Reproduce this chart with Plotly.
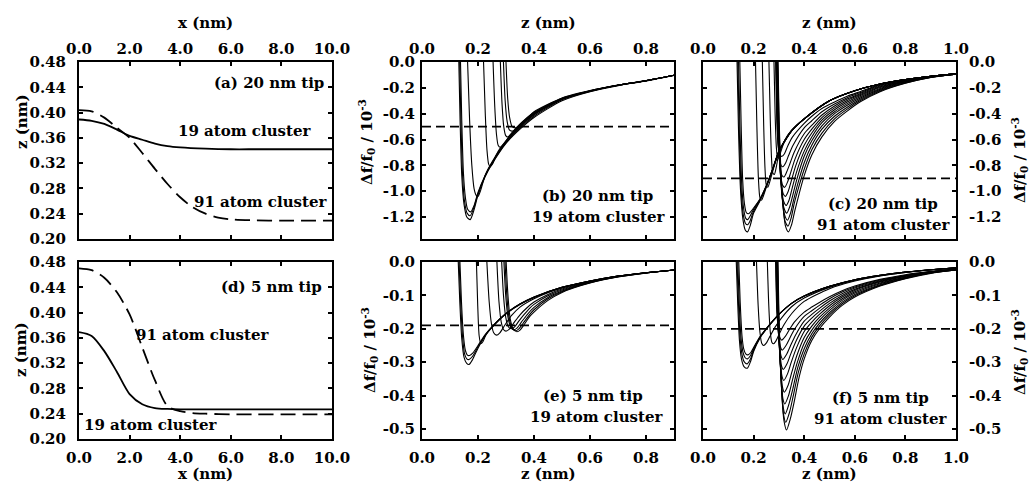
import plotly.graph_objects as go

SERIF = "DejaVu Serif"
W, H = 1029, 484

# ---------------- (a) 20 nm tip: equilibrium height z(x) ----------------
A19_X = [0, 0.5, 1, 1.5, 2, 2.5, 3, 3.5, 4, 5, 6, 7, 8, 9, 10]
A19_Z = [0.389, 0.387, 0.382, 0.373, 0.363, 0.357, 0.351, 0.347, 0.345, 0.343, 0.342, 0.342, 0.342, 0.342, 0.342]
A91_X = [0, 0.5, 1, 1.5, 2, 2.5, 3, 3.5, 4, 4.5, 5, 5.5, 6, 7, 8, 9, 10]
A91_Z = [0.404, 0.402, 0.392, 0.376, 0.360, 0.336, 0.311, 0.287, 0.266, 0.250, 0.240, 0.234, 0.231, 0.2295, 0.229, 0.229, 0.229]

# ---------------- (d) 5 nm tip ----------------
D19_X = [0, 0.5, 1, 1.5, 2, 2.5, 3, 3.5, 4, 5, 6, 7, 8, 9, 10]
D19_Z = [0.369, 0.363, 0.339, 0.306, 0.271, 0.255, 0.249, 0.2475, 0.247, 0.247, 0.247, 0.247, 0.247, 0.247, 0.247]
D91_X = [0, 0.5, 1, 1.5, 2, 2.5, 3, 3.5, 4, 4.5, 5, 6, 7, 8, 9, 10]
D91_Z = [0.470, 0.467, 0.455, 0.432, 0.397, 0.345, 0.293, 0.252, 0.244, 0.241, 0.240, 0.239, 0.239, 0.239, 0.239, 0.239]

# ---------------- (b) 20 nm tip, 19 atom cluster: df/f0 (1e-3) vs z ----------------
B_Z = [
    [0.131, 0.136, 0.142, 0.150, 0.160, 0.172, 0.185, 0.200, 0.225, 0.250, 0.300, 0.350, 0.400, 0.500, 0.600, 0.700, 0.800, 0.900],
    [0.134, 0.139, 0.145, 0.152, 0.161, 0.172, 0.185, 0.200, 0.225, 0.250, 0.300, 0.350, 0.400, 0.500, 0.600, 0.700, 0.800, 0.900],
    [0.137, 0.142, 0.148, 0.155, 0.163, 0.174, 0.186, 0.200, 0.225, 0.250, 0.300, 0.350, 0.400, 0.500, 0.600, 0.700, 0.800, 0.900],
    [0.162, 0.170, 0.178, 0.186, 0.193, 0.200, 0.210, 0.225, 0.250, 0.300, 0.350, 0.400, 0.500, 0.600, 0.700, 0.800, 0.900],
    [0.219, 0.226, 0.232, 0.238, 0.244, 0.252, 0.265, 0.280, 0.300, 0.350, 0.400, 0.500, 0.600, 0.700, 0.800, 0.900],
    [0.253, 0.260, 0.266, 0.272, 0.279, 0.288, 0.300, 0.320, 0.350, 0.400, 0.500, 0.600, 0.700, 0.800, 0.900],
    [0.279, 0.286, 0.292, 0.299, 0.306, 0.315, 0.330, 0.350, 0.400, 0.500, 0.600, 0.700, 0.800, 0.900],
    [0.290, 0.297, 0.304, 0.312, 0.321, 0.330, 0.345, 0.370, 0.400, 0.500, 0.600, 0.700, 0.800, 0.900],
    [0.299, 0.306, 0.313, 0.322, 0.333, 0.343, 0.360, 0.380, 0.400, 0.500, 0.600, 0.700, 0.800, 0.900],
]
B_DF = [
    [0.05, -0.45, -0.88, -1.10, -1.20, -1.22, -1.15, -1.03, -0.89, -0.79, -0.63, -0.52, -0.43, -0.30, -0.23, -0.183, -0.147, -0.104],
    [0.05, -0.45, -0.88, -1.08, -1.17, -1.19, -1.13, -1.02, -0.885, -0.785, -0.625, -0.51, -0.42, -0.293, -0.228, -0.181, -0.146, -0.103],
    [0.05, -0.45, -0.86, -1.05, -1.14, -1.16, -1.11, -1.01, -0.88, -0.78, -0.62, -0.50, -0.41, -0.288, -0.226, -0.18, -0.145, -0.103],
    [0.05, -0.45, -0.80, -0.98, -1.03, -1.04, -0.99, -0.88, -0.775, -0.615, -0.50, -0.405, -0.287, -0.225, -0.18, -0.145, -0.103],
    [0.05, -0.40, -0.68, -0.79, -0.81, -0.79, -0.72, -0.665, -0.61, -0.495, -0.40, -0.285, -0.225, -0.18, -0.145, -0.103],
    [0.05, -0.35, -0.56, -0.645, -0.66, -0.645, -0.61, -0.55, -0.49, -0.40, -0.285, -0.225, -0.18, -0.145, -0.103],
    [0.05, -0.33, -0.50, -0.57, -0.58, -0.565, -0.53, -0.485, -0.395, -0.283, -0.224, -0.18, -0.145, -0.103],
    [0.05, -0.30, -0.46, -0.525, -0.535, -0.525, -0.49, -0.44, -0.39, -0.28, -0.222, -0.179, -0.145, -0.103],
    [0.05, -0.28, -0.43, -0.50, -0.51, -0.50, -0.465, -0.425, -0.385, -0.278, -0.221, -0.178, -0.144, -0.103],
]

# ---------------- (c) 20 nm tip, 91 atom cluster ----------------
C_Z = [
    [0.134, 0.140, 0.148, 0.158, 0.167, 0.176, 0.186, 0.200, 0.225, 0.250, 0.275, 0.300, 0.350, 0.400, 0.500, 0.600, 0.700, 0.800, 0.900, 1.000],
    [0.137, 0.143, 0.150, 0.159, 0.168, 0.176, 0.186, 0.200, 0.225, 0.250, 0.275, 0.300, 0.350, 0.400, 0.500, 0.600, 0.700, 0.800, 0.900, 1.000],
    [0.140, 0.146, 0.153, 0.161, 0.169, 0.177, 0.187, 0.200, 0.225, 0.250, 0.275, 0.300, 0.350, 0.400, 0.500, 0.600, 0.700, 0.800, 0.900, 1.000],
    [0.145, 0.151, 0.157, 0.164, 0.171, 0.179, 0.188, 0.200, 0.225, 0.250, 0.275, 0.300, 0.350, 0.400, 0.500, 0.600, 0.700, 0.800, 0.900, 1.000],
    [0.207, 0.213, 0.219, 0.225, 0.231, 0.240, 0.250, 0.275, 0.300, 0.350, 0.400, 0.500, 0.600, 0.700, 0.800, 0.900, 1.000],
    [0.234, 0.240, 0.245, 0.250, 0.256, 0.265, 0.275, 0.300, 0.350, 0.400, 0.500, 0.600, 0.700, 0.800, 0.900, 1.000],
    [0.260, 0.266, 0.271, 0.276, 0.282, 0.290, 0.300, 0.325, 0.350, 0.400, 0.500, 0.600, 0.700, 0.800, 0.900, 1.000],
    [0.280, 0.285, 0.290, 0.294, 0.298, 0.310, 0.325, 0.350, 0.400, 0.500, 0.600, 0.700, 0.800, 0.900, 1.000],
    [0.287, 0.292, 0.297, 0.302, 0.307, 0.312, 0.322, 0.335, 0.352, 0.400, 0.430, 0.470, 0.520, 0.570, 0.620, 0.700, 0.800, 0.900, 1.000],
    [0.288, 0.293, 0.298, 0.304, 0.310, 0.316, 0.327, 0.339, 0.356, 0.400, 0.430, 0.470, 0.520, 0.570, 0.620, 0.700, 0.800, 0.900, 1.000],
    [0.289, 0.294, 0.300, 0.306, 0.313, 0.320, 0.331, 0.343, 0.360, 0.400, 0.430, 0.470, 0.520, 0.570, 0.620, 0.700, 0.800, 0.900, 1.000],
    [0.290, 0.295, 0.301, 0.308, 0.315, 0.323, 0.334, 0.346, 0.364, 0.400, 0.430, 0.470, 0.520, 0.570, 0.620, 0.700, 0.800, 0.900, 1.000],
    [0.291, 0.296, 0.302, 0.309, 0.317, 0.326, 0.337, 0.349, 0.367, 0.400, 0.430, 0.470, 0.520, 0.570, 0.620, 0.700, 0.800, 0.900, 1.000],
    [0.292, 0.297, 0.303, 0.310, 0.319, 0.329, 0.340, 0.352, 0.370, 0.400, 0.430, 0.470, 0.520, 0.570, 0.620, 0.700, 0.800, 0.900, 1.000],
    [0.293, 0.298, 0.304, 0.311, 0.320, 0.331, 0.343, 0.355, 0.372, 0.400, 0.430, 0.470, 0.520, 0.570, 0.620, 0.700, 0.800, 0.900, 1.000],
    [0.294, 0.299, 0.305, 0.313, 0.322, 0.334, 0.346, 0.358, 0.375, 0.400, 0.430, 0.470, 0.520, 0.570, 0.620, 0.700, 0.800, 0.900, 1.000],
    [0.295, 0.300, 0.306, 0.314, 0.324, 0.336, 0.348, 0.360, 0.378, 0.400, 0.430, 0.470, 0.520, 0.570, 0.620, 0.700, 0.800, 0.900, 1.000],
    [0.296, 0.301, 0.307, 0.316, 0.326, 0.338, 0.350, 0.363, 0.380, 0.400, 0.430, 0.470, 0.520, 0.570, 0.620, 0.700, 0.800, 0.900, 1.000],
]
C_DF = [
    [0.05, -0.50, -0.98, -1.22, -1.30, -1.315, -1.27, -1.17, -1.075, -0.965, -0.835, -0.695, -0.535, -0.44, -0.30, -0.222, -0.17, -0.136, -0.11, -0.092],
    [0.05, -0.50, -0.96, -1.18, -1.25, -1.26, -1.23, -1.155, -1.07, -0.963, -0.834, -0.694, -0.534, -0.44, -0.30, -0.222, -0.17, -0.136, -0.11, -0.092],
    [0.05, -0.50, -0.94, -1.14, -1.21, -1.22, -1.19, -1.14, -1.065, -0.96, -0.832, -0.692, -0.533, -0.44, -0.30, -0.222, -0.17, -0.136, -0.11, -0.092],
    [0.05, -0.50, -0.92, -1.10, -1.165, -1.175, -1.16, -1.13, -1.06, -0.958, -0.83, -0.69, -0.532, -0.44, -0.30, -0.222, -0.17, -0.136, -0.11, -0.092],
    [0.05, -0.50, -0.90, -1.05, -1.07, -1.03, -0.97, -0.83, -0.69, -0.532, -0.44, -0.30, -0.222, -0.17, -0.136, -0.11, -0.092],
    [0.05, -0.50, -0.82, -0.95, -0.97, -0.92, -0.85, -0.695, -0.532, -0.44, -0.30, -0.222, -0.17, -0.136, -0.11, -0.092],
    [0.05, -0.45, -0.75, -0.86, -0.87, -0.81, -0.71, -0.60, -0.53, -0.44, -0.30, -0.222, -0.17, -0.136, -0.11, -0.092],
    [0.05, -0.40, -0.66, -0.735, -0.745, -0.68, -0.60, -0.53, -0.44, -0.30, -0.222, -0.17, -0.136, -0.11, -0.092],
    [0.05, -0.45, -0.64, -0.71, -0.728, -0.73, -0.71, -0.65, -0.585, -0.475, -0.42, -0.36, -0.31, -0.265, -0.23, -0.175, -0.138, -0.111, -0.092],
    [0.05, -0.45, -0.67, -0.77, -0.805, -0.81, -0.78, -0.72, -0.645, -0.51, -0.455, -0.385, -0.325, -0.276, -0.238, -0.18, -0.14, -0.112, -0.092],
    [0.05, -0.45, -0.70, -0.83, -0.88, -0.89, -0.85, -0.79, -0.70, -0.555, -0.49, -0.41, -0.34, -0.287, -0.246, -0.186, -0.143, -0.113, -0.093],
    [0.05, -0.45, -0.72, -0.89, -0.955, -0.97, -0.93, -0.86, -0.75, -0.60, -0.52, -0.43, -0.355, -0.298, -0.254, -0.192, -0.146, -0.114, -0.093],
    [0.05, -0.45, -0.74, -0.93, -1.02, -1.04, -1.00, -0.92, -0.80, -0.645, -0.55, -0.45, -0.37, -0.31, -0.262, -0.198, -0.149, -0.115, -0.093],
    [0.05, -0.45, -0.76, -0.97, -1.08, -1.11, -1.07, -0.98, -0.85, -0.69, -0.58, -0.47, -0.385, -0.322, -0.27, -0.205, -0.152, -0.116, -0.094],
    [0.05, -0.45, -0.77, -1.01, -1.13, -1.17, -1.12, -1.03, -0.90, -0.73, -0.61, -0.495, -0.40, -0.335, -0.28, -0.212, -0.155, -0.117, -0.094],
    [0.05, -0.45, -0.78, -1.04, -1.18, -1.225, -1.17, -1.07, -0.94, -0.78, -0.645, -0.52, -0.42, -0.35, -0.29, -0.218, -0.158, -0.118, -0.094],
    [0.05, -0.45, -0.79, -1.07, -1.23, -1.27, -1.21, -1.10, -0.97, -0.83, -0.68, -0.55, -0.44, -0.365, -0.30, -0.224, -0.162, -0.119, -0.095],
    [0.05, -0.45, -0.80, -1.10, -1.27, -1.315, -1.26, -1.15, -1.02, -0.88, -0.72, -0.58, -0.46, -0.38, -0.31, -0.23, -0.165, -0.12, -0.095],
]

# ---------------- (e) 5 nm tip, 19 atom cluster ----------------
E_Z = [
    [0.129, 0.135, 0.142, 0.150, 0.159, 0.168, 0.180, 0.200, 0.225, 0.250, 0.300, 0.350, 0.400, 0.500, 0.600, 0.700, 0.800, 0.900],
    [0.132, 0.138, 0.145, 0.152, 0.160, 0.168, 0.180, 0.200, 0.225, 0.250, 0.300, 0.350, 0.400, 0.500, 0.600, 0.700, 0.800, 0.900],
    [0.135, 0.141, 0.148, 0.155, 0.162, 0.170, 0.181, 0.200, 0.225, 0.250, 0.300, 0.350, 0.400, 0.500, 0.600, 0.700, 0.800, 0.900],
    [0.194, 0.199, 0.204, 0.210, 0.218, 0.230, 0.250, 0.300, 0.350, 0.400, 0.500, 0.600, 0.700, 0.800, 0.900],
    [0.231, 0.240, 0.248, 0.256, 0.266, 0.278, 0.295, 0.320, 0.350, 0.400, 0.450, 0.500, 0.600, 0.700, 0.800, 0.900],
    [0.267, 0.275, 0.283, 0.291, 0.300, 0.312, 0.330, 0.350, 0.375, 0.400, 0.450, 0.500, 0.600, 0.700, 0.800, 0.900],
    [0.284, 0.291, 0.299, 0.308, 0.318, 0.330, 0.345, 0.365, 0.385, 0.400, 0.450, 0.500, 0.600, 0.700, 0.800, 0.900],
    [0.292, 0.299, 0.307, 0.317, 0.328, 0.340, 0.355, 0.375, 0.400, 0.450, 0.500, 0.600, 0.700, 0.800, 0.900],
    [0.296, 0.303, 0.311, 0.322, 0.334, 0.346, 0.360, 0.380, 0.400, 0.450, 0.500, 0.600, 0.700, 0.800, 0.900],
    [0.300, 0.307, 0.315, 0.326, 0.339, 0.351, 0.365, 0.385, 0.400, 0.450, 0.500, 0.600, 0.700, 0.800, 0.900],
]
E_DF = [
    [0.01, -0.12, -0.23, -0.285, -0.303, -0.307, -0.293, -0.258, -0.222, -0.196, -0.155, -0.127, -0.106, -0.076, -0.057, -0.042, -0.032, -0.024],
    [0.01, -0.12, -0.225, -0.275, -0.290, -0.292, -0.283, -0.254, -0.22, -0.195, -0.155, -0.126, -0.106, -0.076, -0.057, -0.042, -0.032, -0.024],
    [0.01, -0.12, -0.22, -0.265, -0.279, -0.280, -0.273, -0.25, -0.218, -0.194, -0.154, -0.126, -0.105, -0.076, -0.057, -0.042, -0.032, -0.024],
    [0.01, -0.13, -0.22, -0.245, -0.238, -0.215, -0.194, -0.154, -0.126, -0.105, -0.076, -0.057, -0.042, -0.032, -0.024],
    [0.01, -0.12, -0.185, -0.212, -0.219, -0.212, -0.19, -0.16, -0.135, -0.11, -0.092, -0.078, -0.058, -0.042, -0.032, -0.024],
    [0.01, -0.12, -0.18, -0.202, -0.207, -0.201, -0.18, -0.158, -0.137, -0.12, -0.097, -0.081, -0.059, -0.043, -0.032, -0.024],
    [0.01, -0.10, -0.165, -0.193, -0.20, -0.195, -0.178, -0.157, -0.138, -0.127, -0.101, -0.084, -0.06, -0.043, -0.033, -0.024],
    [0.01, -0.10, -0.165, -0.195, -0.203, -0.197, -0.18, -0.158, -0.136, -0.106, -0.087, -0.061, -0.044, -0.033, -0.024],
    [0.01, -0.10, -0.168, -0.198, -0.206, -0.20, -0.185, -0.162, -0.143, -0.11, -0.089, -0.062, -0.044, -0.033, -0.024],
    [0.01, -0.10, -0.17, -0.20, -0.209, -0.203, -0.187, -0.163, -0.15, -0.115, -0.091, -0.063, -0.045, -0.033, -0.024],
]

# ---------------- (f) 5 nm tip, 91 atom cluster ----------------
F_Z = [
    [0.131, 0.137, 0.144, 0.152, 0.162, 0.175, 0.188, 0.200, 0.225, 0.250, 0.275, 0.300, 0.350, 0.400, 0.500, 0.600, 0.700, 0.800, 0.900, 1.000],
    [0.134, 0.140, 0.147, 0.155, 0.164, 0.175, 0.188, 0.200, 0.225, 0.250, 0.275, 0.300, 0.350, 0.400, 0.500, 0.600, 0.700, 0.800, 0.900, 1.000],
    [0.137, 0.143, 0.150, 0.158, 0.166, 0.176, 0.188, 0.200, 0.225, 0.250, 0.275, 0.300, 0.350, 0.400, 0.500, 0.600, 0.700, 0.800, 0.900, 1.000],
    [0.141, 0.147, 0.154, 0.161, 0.169, 0.178, 0.189, 0.200, 0.225, 0.250, 0.275, 0.300, 0.350, 0.400, 0.500, 0.600, 0.700, 0.800, 0.900, 1.000],
    [0.211, 0.218, 0.225, 0.232, 0.240, 0.250, 0.265, 0.285, 0.310, 0.350, 0.400, 0.500, 0.600, 0.700, 0.800, 0.900, 1.000],
    [0.254, 0.260, 0.266, 0.272, 0.279, 0.288, 0.300, 0.320, 0.350, 0.400, 0.500, 0.600, 0.700, 0.800, 0.900, 1.000],
    [0.287, 0.291, 0.296, 0.301, 0.306, 0.311, 0.326, 0.341, 0.361, 0.400, 0.430, 0.460, 0.500, 0.550, 0.600, 0.700, 0.800, 0.900, 1.000],
    [0.288, 0.292, 0.297, 0.302, 0.308, 0.313, 0.328, 0.343, 0.363, 0.400, 0.430, 0.460, 0.500, 0.550, 0.600, 0.700, 0.800, 0.900, 1.000],
    [0.289, 0.293, 0.298, 0.304, 0.310, 0.315, 0.330, 0.345, 0.365, 0.400, 0.430, 0.460, 0.500, 0.550, 0.600, 0.700, 0.800, 0.900, 1.000],
    [0.290, 0.294, 0.299, 0.305, 0.311, 0.317, 0.332, 0.347, 0.367, 0.400, 0.430, 0.460, 0.500, 0.550, 0.600, 0.700, 0.800, 0.900, 1.000],
    [0.291, 0.295, 0.300, 0.306, 0.313, 0.319, 0.334, 0.349, 0.369, 0.400, 0.430, 0.460, 0.500, 0.550, 0.600, 0.700, 0.800, 0.900, 1.000],
    [0.292, 0.296, 0.301, 0.308, 0.315, 0.321, 0.336, 0.351, 0.371, 0.400, 0.430, 0.460, 0.500, 0.550, 0.600, 0.700, 0.800, 0.900, 1.000],
    [0.293, 0.297, 0.302, 0.309, 0.316, 0.323, 0.338, 0.353, 0.373, 0.400, 0.430, 0.460, 0.500, 0.550, 0.600, 0.700, 0.800, 0.900, 1.000],
    [0.294, 0.298, 0.303, 0.310, 0.317, 0.325, 0.340, 0.355, 0.375, 0.400, 0.430, 0.460, 0.500, 0.550, 0.600, 0.700, 0.800, 0.900, 1.000],
    [0.295, 0.299, 0.304, 0.311, 0.318, 0.327, 0.342, 0.357, 0.377, 0.400, 0.430, 0.460, 0.500, 0.550, 0.600, 0.700, 0.800, 0.900, 1.000],
    [0.296, 0.300, 0.305, 0.312, 0.320, 0.330, 0.345, 0.360, 0.380, 0.400, 0.430, 0.460, 0.500, 0.550, 0.600, 0.700, 0.800, 0.900, 1.000],
]
F_DF = [
    [0.01, -0.12, -0.235, -0.29, -0.313, -0.318, -0.298, -0.268, -0.228, -0.201, -0.178, -0.157, -0.124, -0.102, -0.073, -0.053, -0.04, -0.03, -0.023, -0.017],
    [0.01, -0.12, -0.23, -0.28, -0.30, -0.305, -0.29, -0.264, -0.226, -0.20, -0.178, -0.157, -0.124, -0.102, -0.073, -0.053, -0.04, -0.03, -0.023, -0.017],
    [0.01, -0.12, -0.225, -0.27, -0.286, -0.29, -0.28, -0.26, -0.225, -0.20, -0.177, -0.157, -0.124, -0.102, -0.073, -0.053, -0.04, -0.03, -0.023, -0.017],
    [0.01, -0.12, -0.22, -0.26, -0.275, -0.278, -0.271, -0.256, -0.224, -0.20, -0.177, -0.157, -0.124, -0.102, -0.073, -0.053, -0.04, -0.03, -0.023, -0.017],
    [0.01, -0.13, -0.21, -0.243, -0.25, -0.243, -0.222, -0.195, -0.168, -0.134, -0.108, -0.076, -0.055, -0.041, -0.031, -0.023, -0.017],
    [0.01, -0.13, -0.21, -0.24, -0.245, -0.237, -0.218, -0.188, -0.155, -0.118, -0.08, -0.057, -0.042, -0.031, -0.023, -0.017],
    [0.01, -0.13, -0.19, -0.22, -0.23, -0.234, -0.222, -0.203, -0.18, -0.15, -0.135, -0.121, -0.104, -0.086, -0.072, -0.052, -0.038, -0.028, -0.02],
    [0.01, -0.13, -0.20, -0.24, -0.258, -0.264, -0.25, -0.228, -0.20, -0.163, -0.146, -0.13, -0.11, -0.09, -0.075, -0.054, -0.04, -0.029, -0.021],
    [0.01, -0.14, -0.21, -0.262, -0.285, -0.292, -0.277, -0.252, -0.22, -0.177, -0.157, -0.139, -0.117, -0.095, -0.078, -0.056, -0.041, -0.029, -0.021],
    [0.01, -0.14, -0.22, -0.28, -0.313, -0.322, -0.305, -0.275, -0.238, -0.192, -0.168, -0.148, -0.124, -0.10, -0.082, -0.058, -0.042, -0.03, -0.022],
    [0.01, -0.15, -0.23, -0.305, -0.345, -0.355, -0.335, -0.30, -0.258, -0.208, -0.18, -0.157, -0.131, -0.105, -0.085, -0.06, -0.043, -0.03, -0.022],
    [0.01, -0.15, -0.24, -0.33, -0.378, -0.39, -0.37, -0.33, -0.28, -0.226, -0.192, -0.166, -0.138, -0.11, -0.089, -0.063, -0.045, -0.031, -0.023],
    [0.01, -0.15, -0.25, -0.35, -0.41, -0.425, -0.40, -0.355, -0.30, -0.243, -0.204, -0.175, -0.145, -0.115, -0.093, -0.065, -0.046, -0.032, -0.023],
    [0.01, -0.15, -0.26, -0.37, -0.435, -0.455, -0.425, -0.38, -0.315, -0.26, -0.215, -0.184, -0.152, -0.12, -0.097, -0.068, -0.048, -0.033, -0.024],
    [0.01, -0.15, -0.27, -0.385, -0.455, -0.48, -0.45, -0.40, -0.33, -0.275, -0.225, -0.192, -0.158, -0.125, -0.101, -0.07, -0.049, -0.033, -0.024],
    [0.01, -0.15, -0.28, -0.40, -0.475, -0.503, -0.47, -0.42, -0.345, -0.29, -0.235, -0.20, -0.165, -0.13, -0.105, -0.072, -0.05, -0.034, -0.024],
]

# Set-point frequency shifts (dashed horizontal lines)
SETPOINT_B = -0.50
SETPOINT_C = -0.90
SETPOINT_E = -0.19
SETPOINT_F = -0.20

# Axis ranges and tick labels
X_RANGE_AD = [0, 10]
Z_RANGE_AD = [0.20, 0.48]
Z_RANGE_BE = [0, 0.9]
Z_RANGE_CF = [0, 1.0]
DF_RANGE_BC = [-1.37, 0]
DF_RANGE_EF = [-0.53, 0]

X_TICKS_AD = [0, 2, 4, 6, 8, 10]
X_TEXT_AD = ["0.0", "2.0", "4.0", "6.0", "8.0", "10.0"]
Z_TICKS_AD = [0.20, 0.24, 0.28, 0.32, 0.36, 0.40, 0.44, 0.48]
Z_TEXT_AD = ["0.20", "0.24", "0.28", "0.32", "0.36", "0.40", "0.44", "0.48"]
Z_TICKS_BE = [0, 0.2, 0.4, 0.6, 0.8]
Z_TEXT_BE = ["0.0", "0.2", "0.4", "0.6", "0.8"]
Z_TICKS_CF = [0, 0.2, 0.4, 0.6, 0.8, 1.0]
Z_TEXT_CF = ["0.0", "0.2", "0.4", "0.6", "0.8", "1.0"]
DF_TICKS_BC = [0, -0.2, -0.4, -0.6, -0.8, -1.0, -1.2]
DF_TEXT_BC = ["0.0", "-0.2", "-0.4", "-0.6", "-0.8", "-1.0", "-1.2"]
DF_TICKS_EF = [0, -0.1, -0.2, -0.3, -0.4, -0.5]
DF_TEXT_EF = ["0.0", "-0.1", "-0.2", "-0.3", "-0.4", "-0.5"]

fig = go.Figure()


def add_family(zs, dfs, xa, ya):
    for z, d in zip(zs, dfs):
        fig.add_trace(go.Scatter(
            x=z, y=d, mode="lines", xaxis=xa, yaxis=ya, showlegend=False,
            hoverinfo="skip",
            line=dict(color="black", width=1.1, shape="spline", smoothing=0.7)))


def add_profile(x, z, xa, ya, dash):
    fig.add_trace(go.Scatter(
        x=x, y=z, mode="lines", xaxis=xa, yaxis=ya, showlegend=False,
        hoverinfo="skip",
        line=dict(color="black", width=1.8, shape="spline", smoothing=0.8, dash=dash)))


def add_setpoint(level, zrange, xa, ya):
    fig.add_trace(go.Scatter(
        x=zrange, y=[level, level], mode="lines", xaxis=xa, yaxis=ya,
        showlegend=False, hoverinfo="skip",
        line=dict(color="black", width=1.8, dash="9px,5px")))


add_profile(A19_X, A19_Z, "x", "y", "solid")
add_profile(A91_X, A91_Z, "x", "y", "15px,7px")
add_family(B_Z, B_DF, "x2", "y2")
add_setpoint(SETPOINT_B, Z_RANGE_BE, "x2", "y2")
add_family(C_Z, C_DF, "x3", "y3")
add_setpoint(SETPOINT_C, Z_RANGE_CF, "x3", "y3")
add_profile(D19_X, D19_Z, "x4", "y4", "solid")
add_profile(D91_X, D91_Z, "x4", "y4", "15px,7px")
add_family(E_Z, E_DF, "x5", "y5")
add_setpoint(SETPOINT_E, Z_RANGE_BE, "x5", "y5")
add_family(F_Z, F_DF, "x6", "y6")
add_setpoint(SETPOINT_F, Z_RANGE_CF, "x6", "y6")

# panel placement in pixels
COLS = [(79, 332), (422, 674), (703, 956)]
ROWS = [(62, 239), (262, 439)]


def xdom(c):
    return [COLS[c][0] / W, COLS[c][1] / W]


def ydom(r):
    return [1 - ROWS[r][1] / H, 1 - ROWS[r][0] / H]


TICKFONT = dict(family=SERIF, size=15, color="black", weight="bold")
BASE = dict(showline=True, linecolor="black", linewidth=2, mirror="ticks",
            ticks="inside", ticklen=4, tickwidth=1.5, tickcolor="black",
            showgrid=False, zeroline=False, tickfont=TICKFONT,
            fixedrange=True, automargin=False, tickmode="array")

layout_axes = {}
panels = [
    # name, col, row, xside, yside, xrange, xticks, xtext, yrange, yticks, ytext
    ("", 0, 0, "top", "left", X_RANGE_AD, X_TICKS_AD, X_TEXT_AD, Z_RANGE_AD, Z_TICKS_AD, Z_TEXT_AD),
    ("2", 1, 0, "top", "left", Z_RANGE_BE, Z_TICKS_BE, Z_TEXT_BE, DF_RANGE_BC, DF_TICKS_BC, DF_TEXT_BC),
    ("3", 2, 0, "top", "right", Z_RANGE_CF, Z_TICKS_CF, Z_TEXT_CF, DF_RANGE_BC, DF_TICKS_BC, DF_TEXT_BC),
    ("4", 0, 1, "bottom", "left", X_RANGE_AD, X_TICKS_AD, X_TEXT_AD, Z_RANGE_AD, Z_TICKS_AD, Z_TEXT_AD),
    ("5", 1, 1, "bottom", "left", Z_RANGE_BE, Z_TICKS_BE, Z_TEXT_BE, DF_RANGE_EF, DF_TICKS_EF, DF_TEXT_EF),
    ("6", 2, 1, "bottom", "right", Z_RANGE_CF, Z_TICKS_CF, Z_TEXT_CF, DF_RANGE_EF, DF_TICKS_EF, DF_TEXT_EF),
]
for name, c, r, xs, ys, xr, xt, xtt, yr, yt, ytt in panels:
    ystand = 8 if c == 0 else (2 if c == 1 else 8)
    xstand = 0 if xs == "top" else 4
    layout_axes["xaxis" + name] = dict(BASE, domain=xdom(c), anchor="y" + name, side=xs,
                                        range=xr, tickvals=xt, ticktext=xtt,
                                        ticklabelstandoff=xstand)
    layout_axes["yaxis" + name] = dict(BASE, domain=ydom(r), anchor="x" + name, side=ys,
                                        range=yr, tickvals=yt, ticktext=ytt,
                                        ticklabelstandoff=ystand)

TXT = dict(family=SERIF, size=15, color="black", weight="bold")


def note(text, px, py, xanchor="center", angle=0):
    return dict(text=text, x=px / W, y=1 - py / H, xref="paper", yref="paper",
                xanchor=xanchor, yanchor="middle", showarrow=False, textangle=angle,
                font=TXT)


DF_TITLE = "Δf/f<sub>0</sub> / 10<sup>-3</sup>"
annotations = [
    # axis titles
    note("x (nm)", 205.5, 23),
    note("z (nm)", 548, 23),
    note("z (nm)", 829.5, 23),
    note("z (nm)", 22, 122, angle=-90),
    note(DF_TITLE, 366, 142, angle=-90),
    note(DF_TITLE, 1019, 160, angle=-90),
    note("z (nm)", 21, 350, angle=-90),
    note(DF_TITLE, 369, 350, angle=-90),
    note(DF_TITLE, 1019, 352, angle=-90),
    note("x (nm)", 205.5, 474),
    note("z (nm)", 548, 474),
    note("z (nm)", 829.5, 474),
    # panel labels
    note("(a) 20 nm tip", 326, 83, xanchor="right"),
    note("19 atom cluster", 313, 131, xanchor="right"),
    note("91 atom cluster", 329, 202, xanchor="right"),
    note("(b) 20 nm tip", 597, 196),
    note("19 atom cluster", 598, 217),
    note("(c) 20 nm tip", 883, 204),
    note("91 atom cluster", 883, 225),
    note("(d) 5 nm tip", 324, 287, xanchor="right"),
    note("91 atom cluster", 202.5, 335),
    note("19 atom cluster", 150.5, 425),
    note("(e) 5 nm tip", 593, 396),
    note("19 atom cluster", 596.5, 417),
    note("(f) 5 nm tip", 880.5, 398),
    note("91 atom cluster", 880.5, 419),
]

fig.update_layout(
    width=W, height=H, margin=dict(l=0, r=0, t=0, b=0),
    paper_bgcolor="white", plot_bgcolor="white",
    showlegend=False, annotations=annotations, **layout_axes)

fig.write_html("out.html")
